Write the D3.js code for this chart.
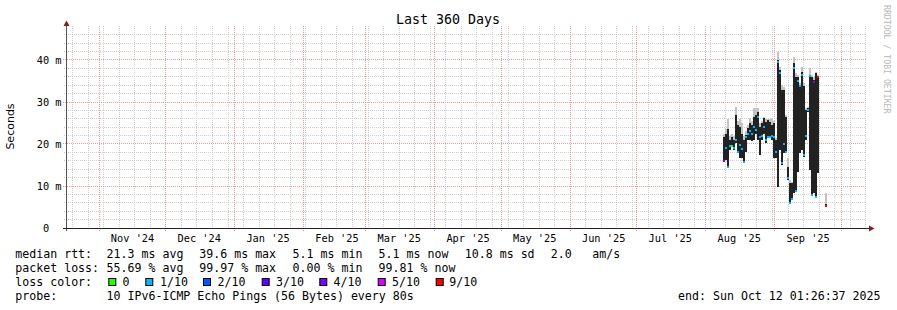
<!DOCTYPE html>
<html><head><meta charset="utf-8">
<script src="https://cdn.jsdelivr.net/npm/d3@7"></script>
<style>body{margin:0;background:#fff}text{font-family:"DejaVu Sans Mono",monospace}</style>
</head><body><svg id="c" width="897" height="310"></svg>
<script>
// ---- data ----
const endTime = new Date(2025, 9, 12, 1, 26, 37);
const spanDays = 360;
const firstSample = new Date(2025, 7, 8, 12, 0, 0);
const sampleHours = 21.6;
const slots = [0,1,2,3,4,5,6,7,8,9,10,11,12,13,14,15,16,17,18,19,20,21,22,23,24,25,26,27,28,29,30,31,32,33,34,35,36,37,38,39,40,41,42,43,44,45,46,47,51];
const lo =     [15.8,16.2,14.6,18.6,19.4,18.6,20.2,18.2,16.6,16.6,15.8,18.2,21.0,21.0,20.6,21.0,22.5,21.0,17.4,21.0,22.5,20.2,21.7,21.7,21.0,16.6,16.6,9.8,18.6,15.0,17.8,17.8,11.4,5.9,6.7,8.3,8.7,13.4,17.8,18.6,17.0,21.0,27.7,13.8,7.9,8.3,7.5,13.0,5.2];
const hi =     [21.7,22.5,23.5,21.0,21.7,21.0,26.9,24.5,24.1,22.5,21.0,22.1,23.7,24.9,24.5,26.5,26.9,27.7,24.1,24.9,26.1,25.3,25.7,25.3,24.5,24.9,21.0,40.0,37.6,32.9,32.9,26.5,14.6,10.6,10.6,39.2,36.0,36.0,33.7,37.2,33.7,28.1,28.5,36.4,36.0,35.2,36.8,36.0,5.6];
const smokeTop=[22.5,23.5,26.0,22.0,22.5,22.0,28.9,25.5,26.0,24.9,22.0,23.0,24.5,26.1,25.5,28.5,28.5,28.5,25.0,25.5,26.5,26.0,25.9,26.0,26.1,25.5,21.5,42.0,38.4,34.0,33.5,27.0,16.6,11.4,11.0,40.8,37.0,36.5,34.5,38.4,34.5,28.5,28.9,38.0,36.5,36.0,37.2,36.5,8.3];
const median = [16.0,19.0,14.6,19.5,19.5,19.0,21.0,18.2,19.8,18.7,15.8,21.7,22.5,23.0,22.5,24.0,23.3,26.5,21.7,22.0,24.0,21.0,21.7,21.7,22.0,21.7,18.0,39.5,36.8,15.4,20.0,18.0,12.0,6.0,7.0,38.0,8.7,35.0,33.7,36.5,17.4,22.0,28.1,36.2,7.9,34.8,7.5,36.0,5.2];
const loss =   [4,1,1,1,0,1,1,1,1,1,1,1,1,1,1,1,1,1,1,1,1,1,1,1,1,1,1,1,1,1,1,1,1,1,1,1,1,1,1,1,1,1,1,1,1,4,1,6,6];
const lossColors = ["#26ff00","#00b8ff","#0059ff","#5e00ff","#7e00ff","#dd00ff","#ff0000"];
const lossLabels = ["0","1/10","2/10","3/10","4/10","5/10","9/10"];
const yTicks = [0,10,20,30,40];
const yTickLabels = ["0  ","10 m","20 m","30 m","40 m"];
const monthLabels = ["Nov '24","Dec '24","Jan '25","Feb '25","Mar '25","Apr '25","May '25","Jun '25","Jul '25","Aug '25","Sep '25"];
const titleText = "Last 360 Days";
const rttRow = ["median rtt:","21.3 ms avg","39.6 ms max","5.1 ms min","5.1 ms now","10.8 ms sd","2.0","am/s"];
const lossRow = ["packet loss:","55.69 % avg","99.97 % max","0.00 % min","99.81 % now"];
const probeRow = ["probe:","10 IPv6-ICMP Echo Pings (56 Bytes) every 80s"];
const endText = "end: Sun Oct 12 01:26:37 2025";

// ---- layout ----
const svg = d3.select("#c");
const startTime = d3.timeDay.offset(endTime, -spanDays);
const x = d3.scaleTime().domain([startTime, endTime]).range([66, 866]);
const y = d3.scaleLinear().domain([0, 48]).range([228, 26.4]);
const px = v => Math.floor(v) + 0.5;

svg.append("rect").attr("width",897).attr("height",310).attr("fill","#fff");

const g = svg.append("g");
// minor grid
d3.timeSunday.range(startTime, endTime).forEach(d => {
  g.append("line").attr("x1",px(x(d))).attr("x2",px(x(d))).attr("y1",26).attr("y2",228)
   .attr("stroke","#d0d0d0").attr("stroke-dasharray","1,1");
});
d3.range(2, 48, 2).filter(v => v % 10).forEach(v => {
  g.append("line").attr("x1",64).attr("x2",866).attr("y1",px(y(v))).attr("y2",px(y(v)))
   .attr("stroke","#d0d0d0").attr("stroke-dasharray","1,1");
});
// major grid
const months = d3.timeMonth.range(startTime, endTime);
months.forEach(d => {
  g.append("line").attr("x1",px(x(d))).attr("x2",px(x(d))).attr("y1",26).attr("y2",231)
   .attr("stroke","#ee9a9a").attr("stroke-dasharray","1,1");
});
yTicks.filter(v => v > 0).forEach(v => {
  g.append("line").attr("x1",63).attr("x2",866).attr("y1",px(y(v))).attr("y2",px(y(v)))
   .attr("stroke","#ee9a9a").attr("stroke-dasharray","1,1");
});

// data
const tOf = i => new Date(firstSample.getTime() + slots[i]*sampleHours*3600e3);
const tEnd = i => new Date(firstSample.getTime() + (slots[i]+1)*sampleHours*3600e3);
const idx = d3.range(slots.length);
const dg = svg.append("g").attr("shape-rendering","crispEdges");
dg.selectAll(".smoke").data(idx).join("rect")
  .attr("x", i => x(tOf(i))).attr("width", i => x(tEnd(i)) - x(tOf(i)))
  .attr("y", i => y(smokeTop[i])).attr("height", i => y(hi[i]) - y(smokeTop[i]))
  .attr("fill","#c4c4c4");
dg.selectAll(".bar").data(idx).join("rect")
  .attr("x", i => x(tOf(i))).attr("width", i => x(tEnd(i)) - x(tOf(i)))
  .attr("y", i => y(hi[i])).attr("height", i => Math.max(1, y(lo[i]) - y(hi[i])))
  .attr("fill","#222");
dg.selectAll(".med").data(idx).join("rect")
  .attr("x", i => x(tOf(i))).attr("width", i => x(tEnd(i)) - x(tOf(i)))
  .attr("y", i => y(median[i]) - 1).attr("height", 2)
  .attr("fill", i => lossColors[loss[i]]);

// axes
svg.append("line").attr("x1",66.5).attr("x2",66.5).attr("y1",231).attr("y2",25).attr("stroke","#555");
svg.append("line").attr("x1",63).attr("x2",870).attr("y1",228.5).attr("y2",228.5).attr("stroke","#222");
svg.append("path").attr("d","M63.5,26 L66.5,20.5 L69.5,26 Z").attr("fill","#8b1a1a");
svg.append("path").attr("d","M869,225.5 L874.5,228.5 L869,231.5 Z").attr("fill","#8b1a1a");

// y labels
svg.selectAll(".yl").data(yTicks).join("text")
  .attr("x",61.5).attr("y", v => y(v) + 3.6).attr("text-anchor","end")
  .attr("xml:space","preserve").style("white-space","pre")
  .attr("font-size","10.3px").attr("fill","#000")
  .text((v,i) => yTickLabels[i]);
// x labels
svg.selectAll(".xl").data(monthLabels).join("text")
  .attr("x",(s,i) => x(d3.timeDay.offset(months[i],15))).attr("y",241.5)
  .attr("text-anchor","middle").attr("font-size","10.3px").text(s => s);

// title
svg.append("text").attr("x",448).attr("y",24).attr("text-anchor","middle")
  .attr("font-size","13.3px").text(titleText);
// y title
svg.append("text").attr("transform","translate(14.3,126.5) rotate(-90)")
  .attr("text-anchor","middle").style("font-family","'DejaVu Sans',sans-serif")
  .attr("font-size","11px").text("Seconds");
// watermark
svg.append("text").attr("transform","translate(883.5,5) rotate(90)")
  .attr("font-size","8.2px").attr("fill","#b8b8b8").text("RRDTOOL / TOBI OETIKER");

// legend
const fs = "11.6px";
const rttX = [16,107.3,200,293.3,379.3,465.5,551.5,593];
rttRow.forEach((s,i) => svg.append("text").attr("x",rttX[i]-0.7).attr("y",257.5).attr("font-size",fs).text(s));
const lossX = [16,107.3,200,293.3,379.3];
lossRow.forEach((s,i) => svg.append("text").attr("x",lossX[i]-0.7).attr("y",271.5).attr("font-size",fs).text(s));
svg.append("text").attr("x",15.3).attr("y",285.5).attr("font-size",fs).text("loss color:");
const boxX = [108.3,145.3,203,261.7,319.3,377.7,435.7];
const labX = [123.3,160.7,218.3,276.7,334.3,392.7,450];
lossColors.forEach((c,i) => {
  svg.append("rect").attr("x",boxX[i]+0.5).attr("y",278.5).attr("width",7).attr("height",7)
    .attr("fill",c).attr("stroke","#000").attr("stroke-width",1);
  svg.append("text").attr("x",labX[i]-0.7).attr("y",285.5).attr("font-size",fs).text(lossLabels[i]);
});
const probeX = [16,107.3];
probeRow.forEach((s,i) => svg.append("text").attr("x",probeX[i]-0.7).attr("y",299.5).attr("font-size",fs).text(s));
svg.append("text").attr("x",880.5).attr("y",299.5).attr("text-anchor","end").attr("font-size",fs).text(endText);
</script></body></html>
